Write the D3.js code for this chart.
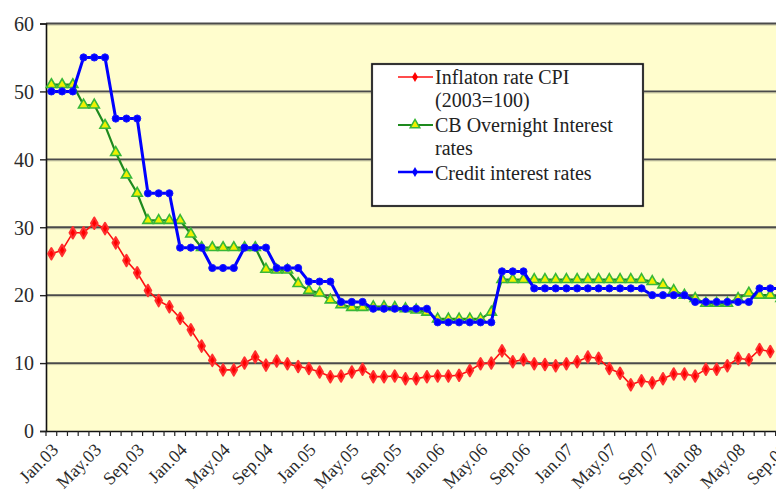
<!DOCTYPE html>
<html>
<head>
<meta charset="utf-8">
<script src="https://cdn.jsdelivr.net/npm/d3@7"></script>
<style>
  html, body { margin: 0; padding: 0; background: #ffffff; }
  svg { display: block; }
</style>
</head>
<body>
<svg id="chart" width="776" height="493"></svg>
<script>
// ---------- data ----------
const monthNames = ["Jan","Feb","Mar","Apr","May","Jun","Jul","Aug","Sep","Oct","Nov","Dec"];
const years = ["03","04","05","06","07","08"];
const categories = [];
years.forEach(y => monthNames.forEach(m => categories.push(m + "." + y)));
categories.length = 69; // Jan.03 .. Sep.08

const tickLabels = ["Jan.03","May.03","Sep.03","Jan.04","May.04","Sep.04","Jan.05","May.05","Sep.05",
  "Jan.06","May.06","Sep.06","Jan.07","May.07","Sep.07","Jan.08","May.08","Sep.08"];

const yTicks = [0, 10, 20, 30, 40, 50, 60];

const inflation = [26.1, 26.6, 29.2, 29.2, 30.6, 29.8, 27.7, 25.1, 23.3, 20.7,
  19.2, 18.3, 16.6, 14.9, 12.5, 10.4, 9.0, 9.0, 10.0, 10.9,
  9.7, 10.3, 9.9, 9.5, 9.2, 8.7, 8.0, 8.1, 8.7, 9.1,
  8.0, 8.0, 8.1, 7.7, 7.7, 8.0, 8.1, 8.1, 8.2, 8.9,
  9.9, 10.0, 11.8, 10.2, 10.5, 9.9, 9.8, 9.6, 9.9, 10.2,
  10.9, 10.7, 9.2, 8.5, 6.8, 7.4, 7.1, 7.7, 8.4, 8.4,
  8.1, 9.1, 9.1, 9.6, 10.7, 10.5, 12.0, 11.7];

const overnight = [51, 51, 51, 48, 48, 45, 41, 37.7, 35, 31,
  31, 31, 31, 29, 27, 27, 27, 27, 27, 27,
  23.8, 23.7, 23.7, 21.7, 20.7, 20.3, 19.3, 18.6, 18.2, 18.2,
  18.3, 18.3, 18.2, 18.0, 17.8, 17.5, 16.5, 16.5, 16.5, 16.5,
  16.5, 17.5, 22.3, 22.3, 22.3, 22.3, 22.3, 22.3, 22.3, 22.3,
  22.3, 22.3, 22.3, 22.3, 22.3, 22.3, 22.0, 21.5, 20.7, 20.0,
  19.5, 18.8, 18.8, 18.8, 19.5, 20.3, 20.0, 20.0, 19.5];

const credit = [50, 50, 50, 55, 55, 55, 46, 46, 46, 35,
  35, 35, 27, 27, 27, 24, 24, 24, 27, 27,
  27, 24, 24, 24, 22, 22, 22, 19, 19, 19,
  18, 18, 18, 18, 18, 18, 16, 16, 16, 16,
  16, 16, 23.5, 23.5, 23.5, 21, 21, 21, 21, 21,
  21, 21, 21, 21, 21, 21, 20, 20, 20, 20,
  19, 19, 19, 19, 19, 19, 21, 21, 21];

const seriesNames = ["Inflaton rate CPI", "(2003=100)", "CB Overnight Interest", "rates", "Credit interest rates"];

// ---------- layout ----------
const FONT = "Liberation Serif";
const svg = d3.select("#chart");
const plotLeft = 46, plotTop = 23.5, plotBottom = 431;
const bandW = 10.73;

const x = d3.scaleBand().domain(categories).range([plotLeft, plotLeft + bandW * categories.length]).padding(0);
const cx = d => x(d) + x.bandwidth() / 2;
const y = d3.scaleLinear().domain([0, 60]).range([plotBottom, plotTop]);

// plot background
svg.append("rect").attr("x", plotLeft).attr("y", plotTop)
  .attr("width", 776 - plotLeft).attr("height", plotBottom - plotTop)
  .attr("fill", "#FFFDCD");

// gridlines (with soft shadow)
const grid = svg.append("g");
yTicks.filter(t => t > 0).forEach(t => {
  grid.append("line").attr("x1", plotLeft).attr("x2", 776)
    .attr("y1", y(t) + 1.5).attr("y2", y(t) + 1.5)
    .attr("stroke", "#9a9a80").attr("stroke-width", 1).attr("opacity", 0.6);
  grid.append("line").attr("x1", plotLeft).attr("x2", 776)
    .attr("y1", y(t)).attr("y2", y(t))
    .attr("stroke", "#4a4a4a").attr("stroke-width", 1.8);
});

// y axis
const yAxis = d3.axisLeft(y).tickValues(yTicks).tickSize(6).tickPadding(6).tickFormat(d3.format("d"));
const gy = svg.append("g").attr("transform", `translate(${plotLeft},0)`).call(yAxis)
  .attr("font-family", FONT).attr("font-size", 20);
gy.select(".domain").attr("stroke", "#111").attr("stroke-width", 1.6);
gy.selectAll(".tick line").attr("stroke", "#222").attr("stroke-width", 1.4);
gy.selectAll(".tick text").attr("font-size", 20).attr("fill", "#2a2a2a")
  .attr("font-family", FONT).attr("dy", "0.34em");

// x axis
const xAxis = d3.axisBottom(x).tickSize(0).tickFormat("");
const gx = svg.append("g").attr("transform", `translate(0,${plotBottom})`).call(xAxis);
gx.select(".domain").attr("stroke", "#111").attr("stroke-width", 1.6);
gx.selectAll(".tick").remove();
const bounds = d3.range(categories.length + 1).map(i => plotLeft + i * x.bandwidth());
gx.selectAll("line.tm").data(bounds).enter().append("line").attr("class", "tm")
  .attr("x1", d => d).attr("x2", d => d).attr("y1", 0).attr("y2", 5)
  .attr("stroke", "#222").attr("stroke-width", 1.2);
svg.append("g").selectAll("text").data(tickLabels).enter().append("text")
  .attr("text-anchor", "end")
  .attr("font-size", 18).attr("fill", "#2a2a2a")
  .attr("font-family", FONT)
  .attr("transform", d => `translate(${cx(d) + 8},${451}) rotate(-45)`)
  .text(d => d);

// series
const lineGen = d3.line().x((d, i) => cx(categories[i])).y(d => y(d));
const diamond = d3.symbol().type(d3.symbolDiamond).size(38);
const triangle = d3.symbol().type(d3.symbolTriangle).size(45);

svg.append("path").datum(inflation).attr("d", lineGen)
  .attr("fill", "none").attr("stroke", "#FF1010").attr("stroke-width", 1.6);
svg.append("g").selectAll("path").data(inflation).enter().append("path")
  .attr("d", diamond)
  .attr("transform", (d, i) => `translate(${cx(categories[i])},${y(d)})`)
  .attr("fill", "#FF0000").attr("stroke", "#FF3030").attr("stroke-width", 2).attr("stroke-linejoin", "round");

svg.append("path").datum(overnight).attr("d", lineGen)
  .attr("fill", "none").attr("stroke", "#1E8A1E").attr("stroke-width", 2.2);
svg.append("g").selectAll("path").data(overnight).enter().append("path")
  .attr("d", triangle)
  .attr("transform", (d, i) => `translate(${cx(categories[i])},${y(d)})`)
  .attr("fill", "#F0F000").attr("stroke", "#38B838").attr("stroke-width", 1.6);

svg.append("path").datum(credit).attr("d", lineGen)
  .attr("fill", "none").attr("stroke", "#0000FF").attr("stroke-width", 3);
svg.append("g").selectAll("circle").data(credit).enter().append("circle")
  .attr("cx", (d, i) => cx(categories[i])).attr("cy", d => y(d)).attr("r", 3.6)
  .attr("fill", "#0000FF").attr("stroke", "#1a1aff").attr("stroke-width", 1);

// legend
const lg = svg.append("g");
lg.append("rect").attr("x", 372).attr("y", 64).attr("width", 271).attr("height", 142)
  .attr("fill", "#ffffff").attr("stroke", "#666").attr("stroke-width", 2.2);
lg.append("rect").attr("x", 372).attr("y", 64).attr("width", 271).attr("height", 142)
  .attr("fill", "none").attr("stroke", "#000").attr("stroke-width", 1);
const lx1 = 398, lx2 = 433, lm = 415, tx = 435;
const rows = [77, 125, 172];
lg.append("line").attr("x1", lx1).attr("x2", lx2).attr("y1", rows[0]).attr("y2", rows[0]).attr("stroke", "#FF1010").attr("stroke-width", 1.6);
lg.append("path").attr("d", d3.symbol().type(d3.symbolDiamond).size(30)).attr("transform", `translate(${lm},${rows[0]})`).attr("fill", "#FF0000");
lg.append("line").attr("x1", lx1).attr("x2", lx2).attr("y1", rows[1]).attr("y2", rows[1]).attr("stroke", "#1E8A1E").attr("stroke-width", 2.2);
lg.append("path").attr("d", d3.symbol().type(d3.symbolTriangle).size(40)).attr("transform", `translate(${lm},${rows[1]})`).attr("fill", "#F0F000").attr("stroke", "#38B838").attr("stroke-width", 1.5);
lg.append("line").attr("x1", lx1).attr("x2", lx2).attr("y1", rows[2]).attr("y2", rows[2]).attr("stroke", "#0000FF").attr("stroke-width", 2.6);
lg.append("path").attr("d", d3.symbol().type(d3.symbolDiamond).size(30)).attr("transform", `translate(${lm},${rows[2]})`).attr("fill", "#0000FF");

const textY = [77, 100, 125, 148, 173];
lg.selectAll("text").data(seriesNames).enter().append("text")
  .attr("x", tx).attr("y", (d, i) => textY[i]).attr("dy", "0.33em")
  .attr("font-size", 20).attr("fill", "#222")
  .attr("font-family", FONT)
  .text(d => d);
</script>
</body>
</html>
